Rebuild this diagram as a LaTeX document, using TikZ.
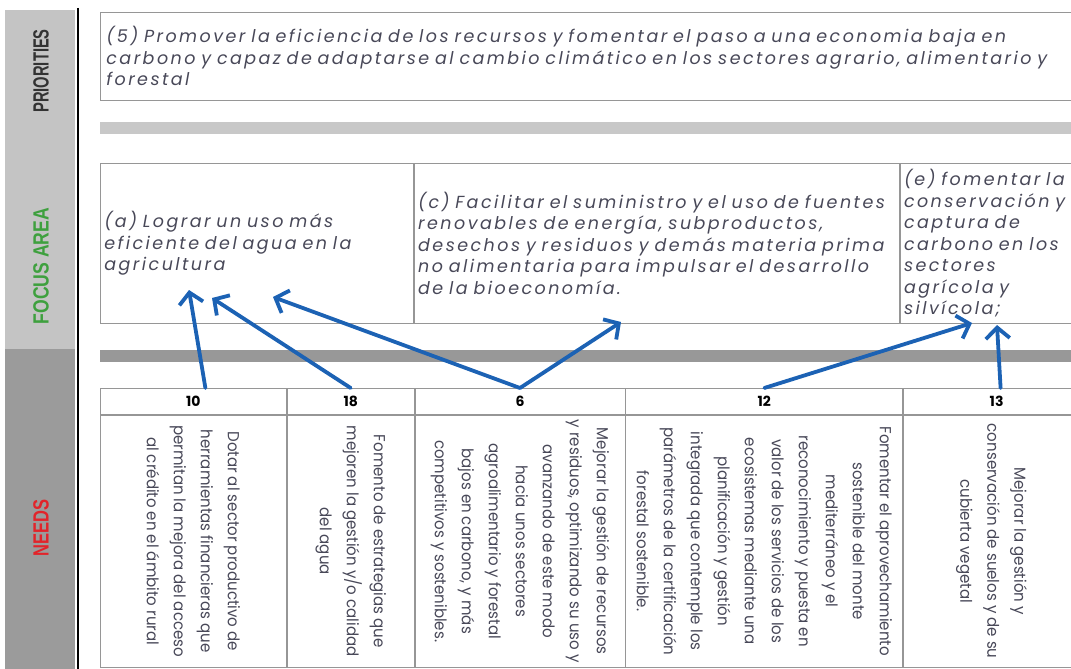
\documentclass[tikz,border=0pt]{standalone}
\usepackage{fontspec}
\setmainfont{Poppins}
\newfontfamily\sidefont{Liberation Sans}
\newfontfamily\widefont[LetterSpace=14]{Poppins}
\usetikzlibrary{arrows.meta,positioning}
\definecolor{sidelight}{RGB}{196,196,196}
\definecolor{sidedark}{RGB}{155,155,155}
\definecolor{barlight}{RGB}{200,200,200}
\definecolor{bardark}{RGB}{152,152,152}
\definecolor{rulegray}{RGB}{150,150,150}
\definecolor{txtgray}{RGB}{72,72,88}
\definecolor{arrowblue}{RGB}{28,98,180}
\definecolor{focusgreen}{RGB}{62,160,62}
\definecolor{needred}{RGB}{226,36,42}

\begin{document}
\begin{tikzpicture}[x=1pt,y=-1pt,
  cell/.style={draw=rulegray,line width=0.8pt,inner sep=0pt},
  prio/.style={cell,anchor=north west,align=left,inner xsep=6pt,
               font=\widefont\fontsize{17.5}{21.5}\selectfont\itshape,text=txtgray},
  focus/.style={cell,align=left,inner xsep=4pt,minimum height=160pt,
                font=\widefont\fontsize{17.5}{21.5}\selectfont\itshape,text=txtgray},
  head/.style={cell,minimum height=26pt,font=\fontsize{14}{14}\selectfont\bfseries},
  body/.style={cell,minimum height=252pt},
  needtxt/.style={rotate=-90,xscale=0.94,align=center,
                  font=\fontsize{16}{27}\selectfont,text=txtgray},
  sidelabel/.style={rotate=90,font=\sidefont\fontsize{22}{22}\selectfont\bfseries},
  arr/.style={draw=arrowblue,line width=3.8pt,line cap=round,
              -{Straight Barb[length=11pt,width=24pt]}}]
\useasboundingbox (0,0) rectangle (1071,669);

% side band
\fill[sidelight] (5,10) rectangle (75,349);
\fill[sidedark] (5,349) rectangle (75,669);
\draw[line width=2pt] (78,8) -- (78,669);
\node[sidelabel,xscale=0.67,text=black!80] (lprio) at (41,71) {PRIORITIES};
\node[sidelabel,xscale=0.8,text=focusgreen] (lfocus) at (41,266) {FOCUS AREA};
\node[sidelabel,xscale=0.75,text=needred] (lneeds) at (41,528) {NEEDS};

% priority
\node[prio,text width=980pt,minimum height=88pt] (p5) at (100,12)
  {(5) Promover la eficiencia de los recursos y fomentar el paso a una economia baja en\\
   carbono y capaz de adaptarse al cambio climático en los sectores agrario, alimentario y\\
   forestal};
\fill[barlight] (100,122) rectangle (1071,134);

% focus areas
\node[focus,anchor=north west,text width=305pt] (fa) at (100,163)
  {(a) Lograr un uso más\\ eficiente del agua en la\\ agricultura};
\node[focus,right=0pt of fa,text width=477pt] (fc)
  {(c) Facilitar el suministro y el uso de fuentes\\ renovables de energía, subproductos,\\
   desechos y residuos y demás materia prima\\ no alimentaria para impulsar el desarrollo\\
   de la bioeconomía.};
\node[focus,right=0pt of fc,text width=180pt] (fe)
  {(e) fomentar la\\ conservación y\\ captura de\\ carbono en los\\ sectores\\ agrícola y\\ silvícola;};
\fill[bardark] (100,350) rectangle (1071,362);

% needs
\node[head,anchor=north west,minimum width=186pt] (h10) at (100,388) {10};
\node[head,right=0pt of h10,minimum width=127pt] (h18) {18};
\node[head,right=0pt of h18,minimum width=210pt] (h6) {6};
\node[head,right=0pt of h6,minimum width=277pt] (h12) {12};
\node[head,right=0pt of h12,minimum width=186pt] (h13) {13};
\node[body,below=0pt of h10,minimum width=186pt] (b10) {};
\node[body,below=0pt of h18,minimum width=127pt] (b18) {};
\node[body,below=0pt of h6,minimum width=210pt] (b6) {};
\node[body,below=0pt of h12,minimum width=277pt] (b12) {};
\node[body,below=0pt of h13,minimum width=186pt] (b13) {};

\node[needtxt] (n10) at (b10.center)
  {Dotar al sector productivo de\\ herramientas financieras que\\
   permitan la mejora del acceso\\ al crédito en el ámbito rural};
\node[needtxt] (n18) at (b18.center)
  {Fomento de estrategias que\\ mejoren la gestión y/o calidad\\ del agua};
\node[needtxt] (n6) at (b6.center)
  {Mejorar la gestión de recursos\\ y residuos, optimizando su uso y\\
   avanzando de este modo\\ hacia unos sectores\\ agroalimentario y forestal\\
   bajos en carbono, y más\\ competitivos y sostenibles.};
\node[needtxt] (n12) at (b12.center)
  {Fomentar el aprovechamiento\\ sostenible del monte\\ mediterráneo y el\\
   reconocimiento y puesta en\\ valor de los servicios de los\\ ecosistemas mediante una\\
   planificación y gestión\\ integrada que contemple los\\ parámetros de la certificación\\
   forestal sostenible.};
\node[needtxt] (n13) at ([xshift=-5pt]b13.center)
  {Mejorar la gestión y\\ conservación de suelos y de su\\ cubierta vegetal};

% arrows
\coordinate (ta1) at (189,290);
\coordinate (ta2) at (212,298);
\coordinate (ta3) at (273,297);
\coordinate (tc) at (621,322);
\coordinate (te1) at (972,323);
\coordinate (te2) at (997,325);
\draw[arr] ([xshift=12pt]h10.north) -- (ta1);
\draw[arr] (h18.north) -- (ta2);
\draw[arr] (h6.north) -- (ta3);
\draw[arr] (h6.north) -- (tc);
\draw[arr] (h12.north) -- (te1);
\draw[arr] ([xshift=4pt]h13.north) -- (te2);
\end{tikzpicture}
\end{document}
